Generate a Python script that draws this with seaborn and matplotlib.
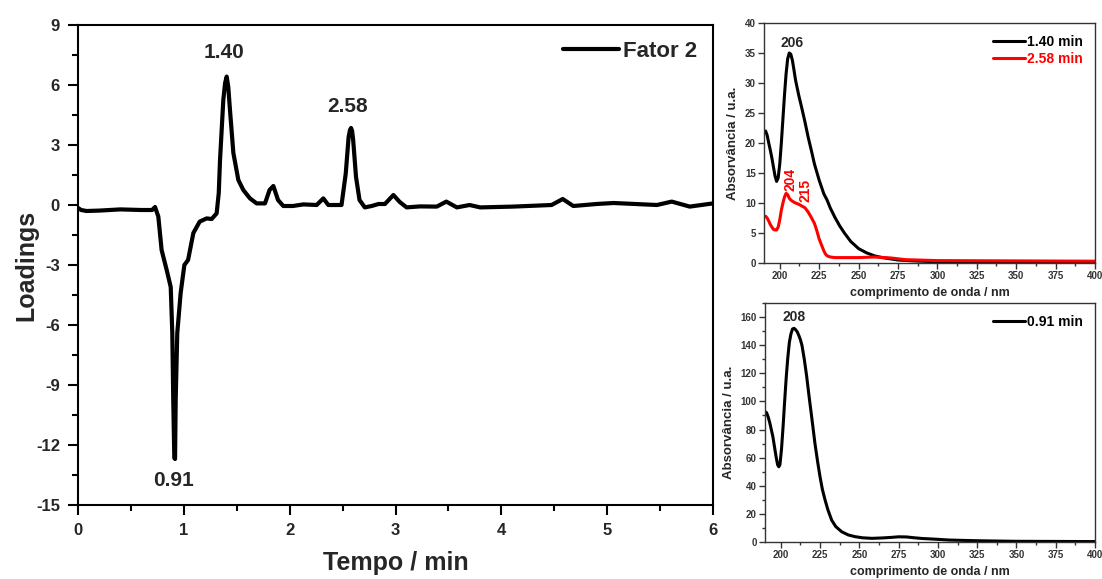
import matplotlib
matplotlib.use("Agg")
import matplotlib.pyplot as plt
import seaborn as sns
import pandas as pd
from matplotlib.ticker import MultipleLocator

# ---------------- data ----------------
tempo = [0.00, 0.03, 0.08, 0.20, 0.40, 0.60, 0.70, 0.728, 0.759, 0.79, 0.838, 0.876, 0.891,
         0.90, 0.91, 0.917, 0.923, 0.938, 0.97, 1.005, 1.04, 1.09, 1.15, 1.216, 1.263, 1.31,
         1.33, 1.342, 1.373, 1.39, 1.405, 1.42, 1.436, 1.468, 1.515, 1.562, 1.625, 1.688,
         1.767, 1.81, 1.846, 1.89, 1.94, 2.03, 2.13, 2.255, 2.318, 2.365, 2.49, 2.53, 2.557,
         2.57, 2.58, 2.59, 2.60, 2.627, 2.66, 2.71, 2.775, 2.84, 2.90, 2.98, 3.04, 3.105,
         3.23, 3.39, 3.48, 3.58, 3.70, 3.80, 4.11, 4.475, 4.58, 4.68, 4.90, 5.06, 5.47, 5.61,
         5.78, 6.00]
loadings = [-0.15, -0.25, -0.30, -0.28, -0.22, -0.25, -0.25, -0.10, -0.58, -2.25, -3.25, -4.1,
            -6.4, -9.75, -12.65, -12.7, -9.75, -6.4, -4.4, -3.0, -2.75, -1.4, -0.83, -0.67,
            -0.70, -0.42, 0.6, 2.25, 5.25, 6.1, 6.42, 5.9, 4.75, 2.6, 1.25, 0.75, 0.33, 0.08,
            0.08, 0.75, 0.95, 0.25, -0.05, -0.05, 0.03, 0.0, 0.33, 0.0, 0.0, 1.58, 3.4,
            3.75, 3.85, 3.7, 3.25, 1.4, 0.25, -0.12, -0.05, 0.05, 0.05, 0.5, 0.15, -0.12,
            -0.07, -0.08, 0.17, -0.12, 0.0, -0.12, -0.08, 0.0, 0.3, -0.05, 0.05, 0.1, 0.0,
            0.17, -0.08, 0.08]

nm_a = [190, 191, 192, 193, 194, 195, 196, 197, 198, 199, 200, 201, 202, 203, 204, 205, 206,
        207, 208, 209, 210, 212, 214, 216, 218, 220, 222, 225, 228, 230, 232, 235, 238, 241,
        245, 250, 255, 260, 265, 270, 275, 285, 300, 350, 400]
abs_140 = [21.7, 22.0, 21.3, 20.0, 18.8, 17.5, 16.0, 14.5, 13.6, 14.2, 16.5, 20.0, 24.0, 28.0,
           31.5, 34.0, 35.0, 34.8, 33.8, 32.2, 30.5, 28.0, 25.8, 23.5, 21.0, 18.8, 16.5, 13.8,
           11.5, 10.5, 9.2, 7.6, 6.2, 5.0, 3.6, 2.4, 1.7, 1.2, 0.9, 0.7, 0.5, 0.35, 0.2,
           0.15, 0.1]
nm_b = [190, 191, 192, 193, 194, 195, 196, 197, 198, 199, 200, 201, 202, 203, 204, 205, 206,
        207, 208, 210, 212, 214, 216, 218, 220, 222, 223.5, 225, 226.5, 228, 229, 230, 232,
        235, 250, 260, 270, 275, 280, 300, 400]
abs_258 = [7.7, 7.8, 7.5, 7.0, 6.4, 6.0, 5.6, 5.5, 5.5, 6.0, 7.2, 8.8, 10.0, 11.0, 11.6, 11.4,
           10.8, 10.5, 10.3, 10.0, 9.8, 9.5, 9.2, 8.5, 7.6, 6.6, 5.4, 4.0, 3.0, 2.0, 1.5, 1.2,
           1.0, 0.9, 0.9, 1.0, 0.85, 0.7, 0.55, 0.4, 0.3]
nm_c = [190, 191, 192, 193, 194, 195, 196, 197, 198, 198.8, 199.5, 200.5, 201.5, 202.5, 203.5,
        204.5, 205.5, 206.5, 207.5, 208.5, 209.5, 210.5, 211.5, 212.5, 213.5, 215, 216.5, 218,
        219.7, 221.8, 223.5, 225, 226.5, 228.2, 230, 232.4, 235, 238.8, 243, 247.3, 252, 258,
        265, 270.6, 275, 280, 285, 290, 300, 307, 325, 349, 375, 400]
abs_091 = [92.7, 92.0, 89.0, 85.0, 80.0, 75.0, 68.0, 61.0, 55.0, 53.5, 55.0, 66.0, 82.0, 100.0,
           117.0, 131.0, 142.0, 148.0, 151.5, 152.0, 151.0, 149.5, 147.0, 144.0, 140.0, 130.0,
           118.0, 104.0, 89.0, 70.0, 57.0, 46.5, 37.5, 30.0, 23.0, 15.6, 11.0, 7.3, 5.0, 3.8,
           3.0, 2.6, 2.9, 3.3, 3.7, 3.6, 3.0, 2.5, 1.9, 1.4, 0.9, 0.5, 0.4, 0.3]

# ---------------- style ----------------
sns.set_theme(style="white")
plt.rcParams['font.family'] = ['Liberation Sans', 'DejaVu Sans']
plt.rcParams['font.weight'] = 'bold'
plt.rcParams['axes.labelweight'] = 'bold'
plt.rcParams['axes.unicode_minus'] = False

W, H = 1102, 579
fig = plt.figure(figsize=(W / 100, H / 100), dpi=100)


def rect(l, t, r, b):
    return [l / W, (H - b) / H, (r - l) / W, (b - t) / H]


ax = fig.add_axes(rect(78, 25, 713, 505))
axt = fig.add_axes(rect(764, 23, 1095, 263))
axb = fig.add_axes(rect(765, 303, 1095, 542))

# ---- main chromatogram ----
df = pd.DataFrame({"t": tempo, "v": loadings})
sns.lineplot(data=df, x="t", y="v", ax=ax, color="black", lw=3.0, sort=False,
             label="Fator 2")
ax.set_xlim(0, 6)
ax.set_ylim(-15, 9)
ax.xaxis.set_major_locator(MultipleLocator(1))
ax.xaxis.set_minor_locator(MultipleLocator(0.5))
ax.yaxis.set_major_locator(MultipleLocator(3))
ax.yaxis.set_minor_locator(MultipleLocator(1.5))
ax.tick_params(which='both', direction='out', bottom=True, left=True, top=False,
               right=False, color='black', width=1.5)
ax.tick_params(which='major', length=7, labelsize=12, pad=6)
ax.tick_params(which='minor', length=4)
for lab in ax.get_xticklabels() + ax.get_yticklabels():
    lab.set_fontweight('bold')
for s in ax.spines.values():
    s.set_color('black')
    s.set_linewidth(1.5)
ax.set_xlabel("Tempo / min", fontsize=18, fontweight='bold', va='top')
ax.xaxis.set_label_coords(0.5, -0.095)
ax.set_ylabel("Loadings", fontsize=18, fontweight='bold')
ax.yaxis.set_label_coords(-0.062, 0.5)
ax.text(1.38, 7.65, "1.40", fontsize=15, fontweight='bold', ha='center', va='center')
ax.text(2.547, 4.92, "2.58", fontsize=15, fontweight='bold', ha='center', va='center')
ax.text(0.907, -13.75, "0.91", fontsize=15, fontweight='bold', ha='center', va='center')
ax.legend(loc='upper right', frameon=False, handlelength=2.5,
          handletextpad=0.2, borderaxespad=0.3,
          prop={'weight': 'bold', 'size': 16})

# ---- spectra panels ----
dfa = pd.DataFrame({"nm": nm_a, "a": abs_140})
dfb = pd.DataFrame({"nm": nm_b, "a": abs_258})
dfc = pd.DataFrame({"nm": nm_c, "a": abs_091})
sns.lineplot(data=dfa, x="nm", y="a", ax=axt, color="black", lw=2.2, label="1.40 min")
sns.lineplot(data=dfb, x="nm", y="a", ax=axt, color="#ff0000", lw=2.2, label="2.58 min")
sns.lineplot(data=dfc, x="nm", y="a", ax=axb, color="black", lw=2.2, label="0.91 min")

for a_, ylim, ymaj, ymin in [(axt, (0, 40), 5, None), (axb, (0, 170), 20, 10)]:
    a_.set_xlim(190, 400)
    a_.set_ylim(*ylim)
    a_.xaxis.set_major_locator(MultipleLocator(25))
    a_.xaxis.set_minor_locator(MultipleLocator(12.5))
    a_.yaxis.set_major_locator(MultipleLocator(ymaj))
    if ymin:
        a_.yaxis.set_minor_locator(MultipleLocator(ymin))
    a_.tick_params(which='both', direction='out', bottom=True, left=True, top=False,
                   right=False, color='#333333', width=1.0)
    a_.tick_params(which='major', length=4, labelsize=7, pad=2, labelcolor='#333333')
    a_.tick_params(which='minor', length=2)
    for lab in a_.get_xticklabels() + a_.get_yticklabels():
        lab.set_fontweight('bold')
    for s in a_.spines.values():
        s.set_color('#333333')
        s.set_linewidth(1.0)
    a_.set_xlabel("comprimento de onda / nm", fontsize=9, fontweight='bold', labelpad=4)
    a_.set_ylabel("Absorvância / u.a.", fontsize=9.5, fontweight='bold', labelpad=4)
    a_.legend(loc='upper right', frameon=False, handlelength=2.3, handletextpad=0.2,
              borderaxespad=0.45, labelspacing=0.2, labelcolor='linecolor',
              prop={'weight': 'bold', 'size': 10})

axt.text(207.8, 36.7, "206", fontsize=10, fontweight='bold', ha='center', va='center')
axt.text(206.5, 14.0, "204", fontsize=10, fontweight='bold', ha='center', va='center',
         rotation=90, color='#ff0000')
axt.text(216.3, 12.1, "215", fontsize=10, fontweight='bold', ha='center', va='center',
         rotation=90, color='#ff0000')
axb.text(208.7, 160.2, "208", fontsize=10, fontweight='bold', ha='center', va='center')

fig.savefig("out.png", dpi=100, facecolor='white')
